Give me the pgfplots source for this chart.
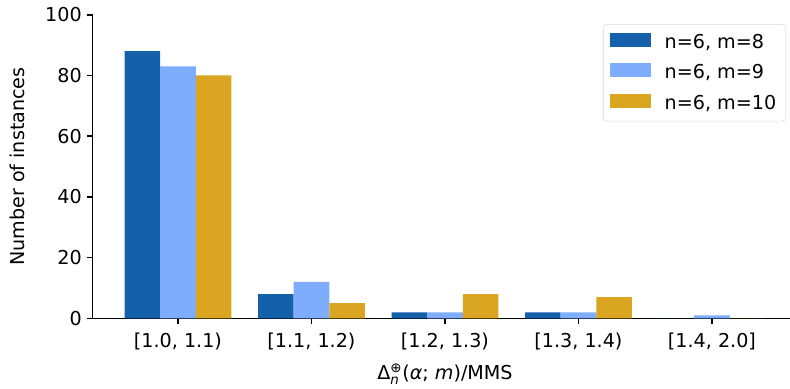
\documentclass[border=0pt]{standalone}
\usepackage{amsmath}
\usepackage{fontspec}
\setmainfont{DejaVu Sans}
\usepackage{pgfplots}
\pgfplotsset{compat=1.18}
\definecolor{cA}{HTML}{1560AA}
\definecolor{cB}{HTML}{7FADFD}
\definecolor{cC}{HTML}{DAA520}
\begin{document}
\begin{tikzpicture}
\begin{axis}[
  at={(0,0)}, anchor=south west,
  scale only axis, width=515.7pt, height=222.1pt,
  xmin=-0.64, xmax=4.64, ymin=0, ymax=100,
  axis x line*=bottom, axis y line*=left,
  xtick={0,1,2,3,4},
  xticklabels={{[1.0, 1.1)},{[1.1, 1.2)},{[1.2, 1.3)},{[1.3, 1.4)},{[1.4, 2.0]}},
  ytick={0,20,40,60,80,100},
  tick align=outside, major tick length=4.4pt,
  tick style={black, line width=1.1pt},
  axis line style={line width=1.1pt},
  /pgf/number format/assume math mode=true,
  tick label style={font=\fontsize{14}{16}\selectfont},
  xticklabel style={yshift=-2.5pt},
  label style={font=\fontsize{14}{16}\selectfont},
  ylabel={Number of instances},
  xlabel={Δ$_{\text{\itshape n}}^{\text{⊕}}$(\textit{α}; \textit{m})/MMS},
  xlabel style={yshift=-3.5pt},
  ylabel style={yshift=8pt},
  legend style={at={(0.984,0.969)}, anchor=north east, draw=black!15, rounded corners=2.5pt,
    font=\fontsize{14}{16}\selectfont, row sep=6.5pt, inner xsep=5pt, inner ysep=5pt,
    /tikz/every even column/.append style={column sep=0pt}},
  legend cell align=left,
  legend image code/.code={\fill[#1, sharp corners] (0pt,-3.4pt) rectangle (30pt,6.8pt);},
]
\addplot[ybar, bar width=0.2667, bar shift=-0.2667, fill=cA, draw=none] coordinates {(0,88) (1,8) (2,2) (3,2) (4,0)};
\addplot[ybar, bar width=0.2667, bar shift=0, fill=cB, draw=none] coordinates {(0,83) (1,12) (2,2) (3,2) (4,1)};
\addplot[ybar, bar width=0.2667, bar shift=0.2667, fill=cC, draw=none] coordinates {(0,80) (1,5) (2,8) (3,7) (4,0)};
\legend{{\hspace*{8pt}n=6, m=8},{\hspace*{8pt}n=6, m=9},{\hspace*{8pt}n=6, m=10}}
\end{axis}
\pgfresetboundingbox
\path (-67.7pt,-51.7pt) rectangle (510.3pt,232.9pt);
\end{tikzpicture}
\end{document}
